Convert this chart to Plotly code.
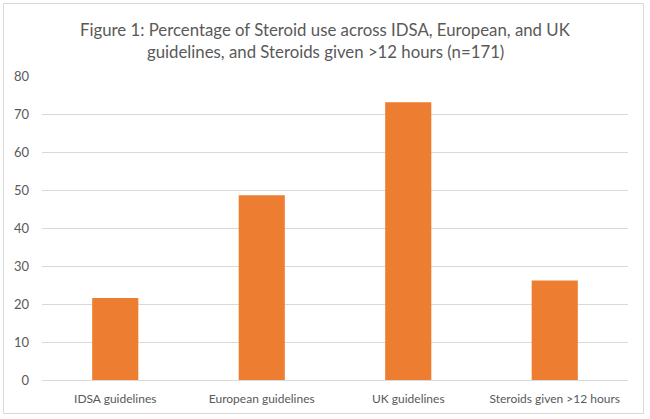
import plotly.graph_objects as go

categories = ["IDSA guidelines", "European guidelines", "UK guidelines", "Steroids given >12 hours"]
values = [21.6, 48.6, 73.1, 26.2]
y_ticks = [0, 10, 20, 30, 40, 50, 60, 70, 80]
title_lines = ["Figure 1: Percentage of Steroid use across IDSA, European, and UK",
               "guidelines, and Steroids given >12 hours (n=171)"]

W, H = 650, 419
L, R, T, B = 42, 22, 76, 39
pw, ph = W - L - R, H - T - B

fig = go.Figure(go.Bar(x=categories, y=values, marker=dict(color="#ED7D31", line=dict(width=0)),
                       width=0.315))

def px_x(p):
    return (p - L) / pw

def px_y(p):
    return (H - B - p) / ph

fig.add_shape(type="rect", xref="paper", yref="paper",
              x0=px_x(3.5), x1=px_x(643.5), y0=px_y(413.5), y1=px_y(3.5),
              line=dict(color="#d9d9d9", width=1), layer="below")

for txt, yc in zip(title_lines, [30, 52]):
    fig.add_annotation(text=txt, xref="paper", yref="paper", x=px_x(325), y=px_y(yc),
                       xanchor="center", yanchor="middle", showarrow=False,
                       font=dict(family="Lato", size=16.8, color="#595959"))

fig.update_layout(
    width=W, height=H,
    margin=dict(l=L, r=R, t=T, b=B),
    paper_bgcolor="white", plot_bgcolor="white",
    showlegend=False,
    font=dict(family="Lato", color="#595959"),
    xaxis=dict(showgrid=False, showline=False, ticks="", tickfont=dict(size=12, color="#595959"),
               ticklabelstandoff=10, fixedrange=True),
    yaxis=dict(range=[0, 80], tickvals=y_ticks, showgrid=True, gridcolor="#d9d9d9", gridwidth=1,
               zeroline=True, zerolinecolor="#d9d9d9", zerolinewidth=1, showline=False, ticks="",
               ticklabelstandoff=12, tickfont=dict(size=13, color="#595959")),
)

fig.write_html("out.html")
